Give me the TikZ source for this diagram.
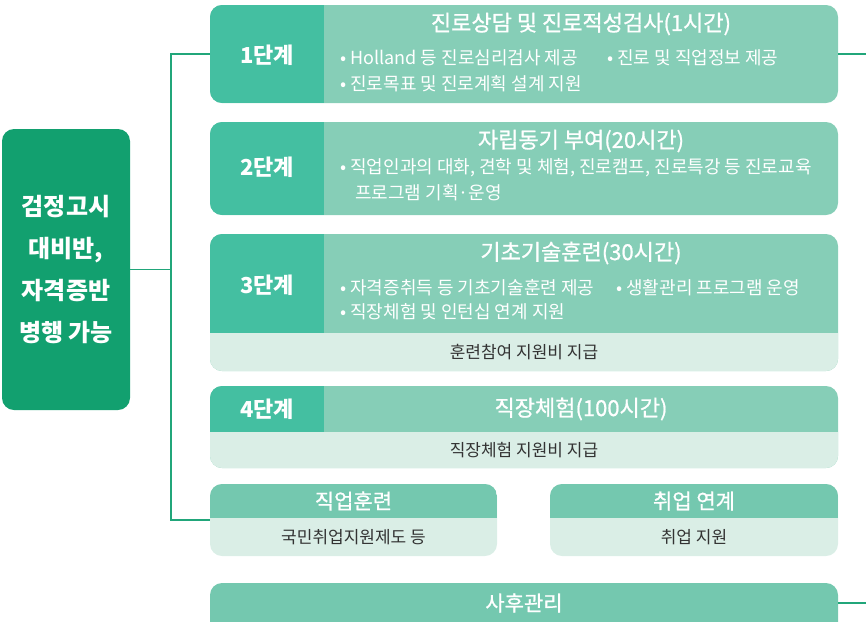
\documentclass[tikz,border=0pt]{standalone}
\usepackage{fontspec}
\setmainfont{Noto Sans CJK KR}
\newfontfamily\medfont[FakeBold=0.9]{Noto Sans CJK KR}
\definecolor{darkteal}{HTML}{44BFA1}
\definecolor{lightteal}{HTML}{86CEB7}
\definecolor{headteal}{HTML}{74C8AF}
\definecolor{bodymint}{HTML}{DAEEE6}
\definecolor{leftgreen}{HTML}{12A06F}
\definecolor{linegreen}{HTML}{21A67A}
\definecolor{bodygray}{HTML}{333333}
\tikzset{
  stagebox/.style={rectangle, rounded corners=12pt, minimum width=628pt, inner sep=0pt, outer sep=0pt, fill=lightteal},
  smallbox/.style={rectangle, rounded corners=12pt, minimum width=287pt, minimum height=72pt, inner sep=0pt, outer sep=0pt, fill=bodymint,
    path picture={\fill[headteal, sharp corners] (path picture bounding box.north west) rectangle ([yshift=-34pt]path picture bounding box.north east);}},
  darkpart/.style={path picture={\fill[darkteal, sharp corners] (path picture bounding box.north west) rectangle ([xshift=114pt]path picture bounding box.south west);}},
  darkbody/.style={path picture={
    \fill[darkteal, sharp corners] (path picture bounding box.north west) rectangle ([xshift=114pt,yshift=#1]path picture bounding box.south west);
    \fill[bodymint, sharp corners] ([yshift=#1]path picture bounding box.south west) rectangle (path picture bounding box.south east);}},
  lab/.style={font=\bfseries\fontsize{22}{26}\selectfont, text=white, inner sep=0pt},
  hdr/.style={font=\medfont\fontsize{21}{25}\selectfont, text=white, inner sep=0pt},
  ttl/.style={font=\medfont\fontsize{22}{26}\selectfont, text=white, inner sep=0pt},
  bul/.style={font=\fontsize{18}{21}\selectfont, text=white, anchor=west, inner sep=0pt},
  bodytxt/.style={font=\fontsize{17}{20}\selectfont, text=bodygray, inner sep=0pt},
  link/.style={draw=linegreen, line width=1.5pt},
}
\begin{document}
\begin{tikzpicture}[x=1pt, y=-1pt]
\useasboundingbox (0,0) rectangle (866,621);
\clip (0,0) rectangle (866,621);
% left box
\node[rectangle, rounded corners=12pt, minimum width=128pt, minimum height=281pt, inner sep=0pt, outer sep=0pt, fill=leftgreen,
  text=white, align=center, font=\bfseries\fontsize{24}{42}\selectfont] (L) at (66,269.5) {검정고시\\대비반,\\자격증반\\병행 가능};
% stage 1
\node[stagebox, minimum height=98pt, darkpart] (s1) at (524,54) {};
\node[lab] (s1l) at (267,55) {1단계};
\node[ttl] (s1t) at (581,24) {진로상담 및 진로적성검사(1시간)};
\node[bul] (s1a) at (340,58) {• Holland 등 진로심리검사 제공};
\node[bul] (s1b) at (607,58) {• 진로 및 직업정보 제공};
\node[bul] (s1c) at (340,84) {• 진로목표 및 진로계획 설계 지원};
% stage 2
\node[stagebox, minimum height=93pt, darkpart] (s2) at (524,168.5) {};
\node[lab] (s2l) at (267,167) {2단계};
\node[ttl] (s2t) at (581,141) {자립동기 부여(20시간)};
\node[bul] (s2a) at (340,168) {• 직업인과의 대화, 견학 및 체험, 진로캠프, 진로특강 등 진로교육};
\node[bul] (s2b) at (355,193) {프로그램 기획·운영};
% stage 3
\node[stagebox, minimum height=137pt, darkbody=38pt] (s3) at (524,302.5) {};
\node[lab] (s3l) at (267,285) {3단계};
\node[ttl] (s3t) at (581,253) {기초기술훈련(30시간)};
\node[bul] (s3a) at (340,288) {• 자격증취득 등 기초기술훈련 제공};
\node[bul] (s3b) at (616,288) {• 생활관리 프로그램 운영};
\node[bul] (s3c) at (340,312) {• 직장체험 및 인턴십 연계 지원};
\node[bodytxt] (s3d) at (524,352) {훈련참여 지원비 지급};
% stage 4
\node[stagebox, minimum height=82pt, darkbody=36pt] (s4) at (524,427) {};
\node[lab] (s4l) at (267,409) {4단계};
\node[ttl] (s4t) at (581,409) {직장체험(100시간)};
\node[bodytxt] (s4d) at (524,450) {직장체험 지원비 지급};
% bottom boxes
\node[smallbox] (h1) at (353.5,520) {};
\node[hdr] (h1t) at (353.5,501) {직업훈련};
\node[bodytxt] (h1d) at (353.5,537) {국민취업지원제도 등};
\node[smallbox, minimum width=288pt] (h2) at (694,520) {};
\node[hdr] (h2t) at (694,501) {취업 연계};
\node[bodytxt] (h2d) at (694,537) {취업 지원};
\node[stagebox, minimum height=57pt, fill=headteal] (after) at (524,611.5) {};
\node[hdr] (aftert) at (524,603) {사후관리};
% connectors
\coordinate (jm) at (171,269.5);
\coordinate (r1) at (866,54);
\coordinate (r2) at (866,603);
\draw[link] (L.east) -- (jm);
\draw[link] (s1.west) -- (s1.west -| jm) -- (h1.west -| jm) -- (h1.west);
\draw[link] (s1.east) -- (r1);
\draw[link] ([yshift=-20pt]after.north east) -- (r2);
\end{tikzpicture}
\end{document}
